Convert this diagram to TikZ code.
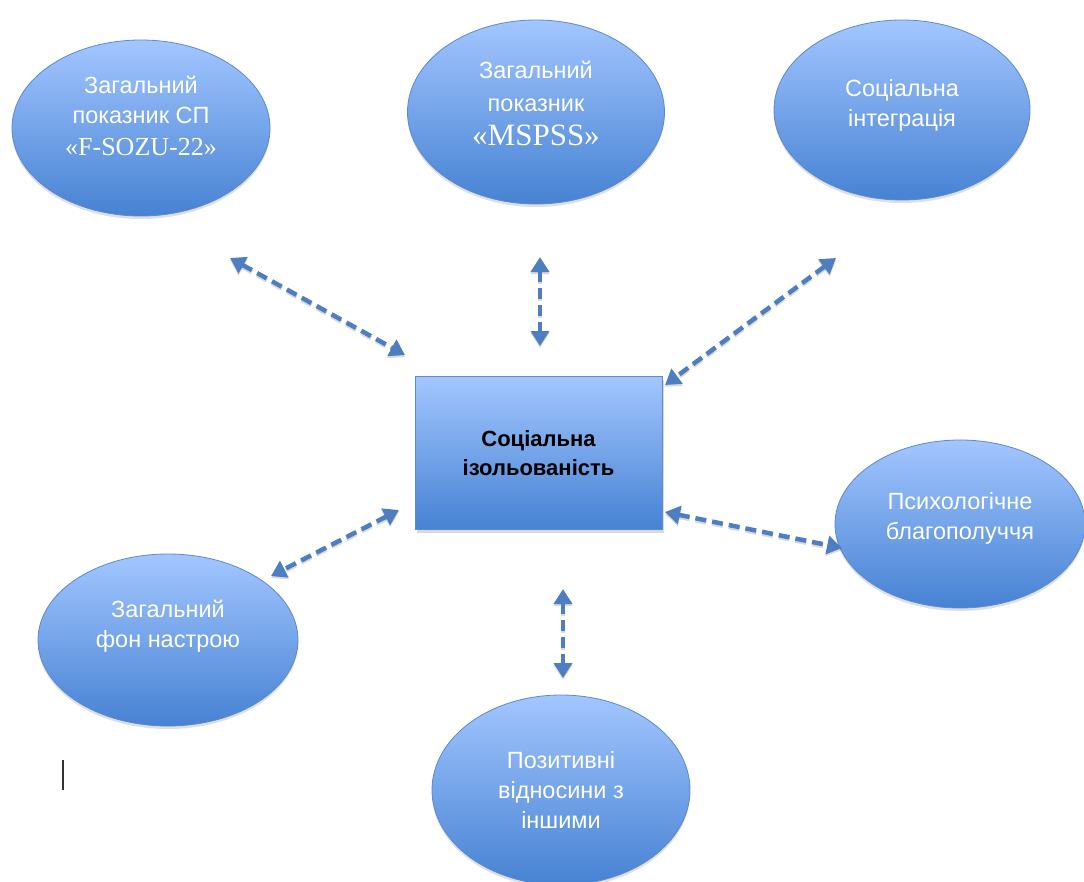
\documentclass[tikz,border=0pt]{standalone}
\usepackage{fontspec}
\setmainfont{Liberation Sans}
\newfontfamily\timesf{Liberation Serif}
\usetikzlibrary{shapes.geometric,arrows.meta,shadows}
\definecolor{topblue}{HTML}{A3C6FF}
\definecolor{botblue}{HTML}{4682D3}
\definecolor{edgeblue}{HTML}{5A8AD0}
\definecolor{arrowblue}{HTML}{4D7FC0}
\tikzset{
  bubble/.style={ellipse, draw=edgeblue, line width=0.8pt, top color=topblue, bottom color=botblue,
    text=white, align=center, font=\fontsize{23.5}{30}\selectfont, inner sep=0pt,
    drop shadow={shadow xshift=0pt, shadow yshift=-3pt, opacity=0.25}},
  lift/.style={text depth=#1},
  centerbox/.style={rectangle, draw=edgeblue, line width=0.8pt, top color=topblue, bottom color=botblue,
    align=center, font=\fontsize{22}{29}\selectfont\bfseries, text=black,
    drop shadow={shadow xshift=2pt, shadow yshift=-3pt, opacity=0.3}},
  link/.style={arrowblue, line width=4.5pt, dash pattern=on 11pt off 6pt,
    {Triangle[length=15pt,width=18pt]}-{Triangle[length=15pt,width=18pt]},
    preaction={draw=black, opacity=0.15, line width=4.5pt, dash pattern=on 11pt off 6pt, transform canvas={yshift=-2pt}}}
}
\begin{document}
\begin{tikzpicture}[x=1pt,y=-1pt]
\useasboundingbox (0,0) rectangle (1084,881);
\node[bubble, lift=24pt, minimum width=258pt, minimum height=176pt] (e1) at (141,128)
  {Загальний\\показник СП\\[2pt]{\timesf\fontsize{26}{30}\selectfont «F-SOZU-22»}};
\node[bubble, lift=18pt, minimum width=257pt, minimum height=184pt] (e2) at (536,112)
  {Загальний\\[3pt]показник\\[4pt]{\timesf\fontsize{31}{33}\selectfont «MSPSS»}};
\node[bubble, lift=15pt, minimum width=256pt, minimum height=180pt] (e3) at (902,110)
  {Соціальна\\інтеграція};
\node[bubble, lift=17pt, minimum width=250pt, minimum height=168pt] (e4) at (960,524)
  {Психологічне\\благополуччя};
\node[bubble, lift=33pt, minimum width=260pt, minimum height=172pt] (e5) at (168,640)
  {Загальний\\фон настрою};
\node[bubble, minimum width=258pt, minimum height=190pt] (e6) at (561,790)
  {Позитивні\\відносини з\\іншими};
\node[centerbox, minimum width=247pt, minimum height=153pt] (c) at (538.5,453)
  {Соціальна\\ізольованість};
\coordinate (a1s) at (230,258); \coordinate (a1e) at (405,355);
\coordinate (a2s) at (540,257); \coordinate (a2e) at (540,346);
\coordinate (a3s) at (836,258); \coordinate (a3e) at (665,385);
\coordinate (a4s) at (665,512); \coordinate (a4e) at (842,548);
\coordinate (a5s) at (399,510); \coordinate (a5e) at (271,576);
\coordinate (a6s) at (563,589); \coordinate (a6e) at (563,678);
\draw[link] (a1s) -- (a1e);
\draw[link] (a2s) -- (a2e);
\draw[link] (a3s) -- (a3e);
\draw[link] (a4s) -- (a4e);
\draw[link] (a5s) -- (a5e);
\draw[link] (a6s) -- (a6e);
\coordinate (cur1) at (63,760); \coordinate (cur2) at (63,790);
\draw[black!80, line width=1.6pt] (cur1) -- (cur2);
\end{tikzpicture}
\end{document}
